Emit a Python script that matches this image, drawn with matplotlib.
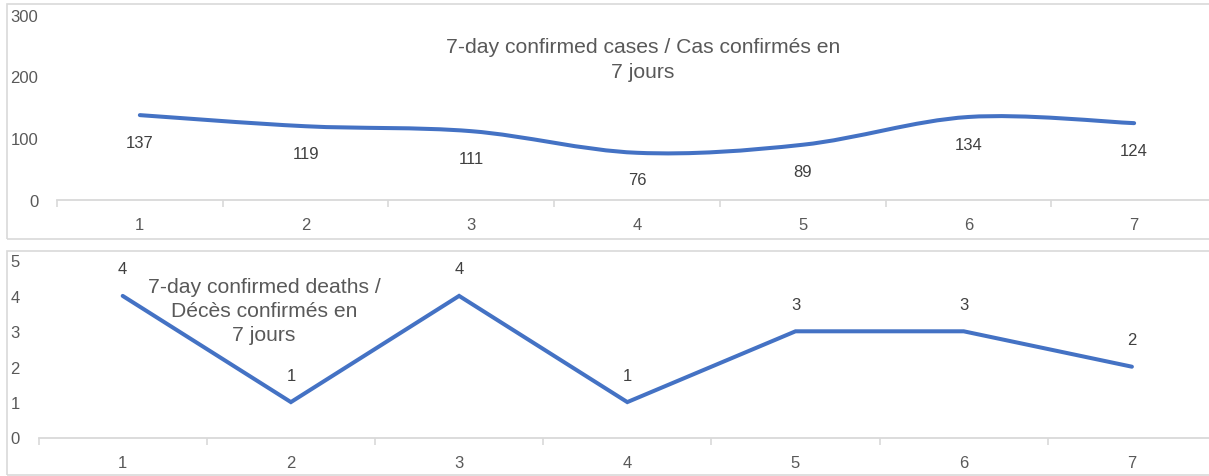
import matplotlib
matplotlib.use("Agg")
import matplotlib.pyplot as plt
from matplotlib.path import Path
from matplotlib.patches import PathPatch, Rectangle
import numpy as np

plt.rcParams['font.family'] = ['Liberation Sans', 'DejaVu Sans']

days = [1, 2, 3, 4, 5, 6, 7]
cases = [137, 119, 111, 76, 89, 134, 124]
deaths = [4, 1, 4, 1, 3, 3, 2]
case_ticks = [0, 100, 200, 300]
death_ticks = [0, 1, 2, 3, 4, 5]
title_cases = "7-day confirmed cases / Cas confirmés en\n7 jours"
title_deaths = "7-day confirmed deaths /\nDécès confirmés en\n7 jours"

LINE = '#4472C4'
GRID = '#D9D9D9'
TXT = '#595959'
LBL = '#404040'

W, H = 1209, 477
fig = plt.figure(figsize=(W / 100, H / 100), dpi=100)

# outer chart borders
for (x0, y0, x1, y1) in [(7, 5, 1215, 240), (7, 252, 1215, 476)]:
    fig.add_artist(Rectangle((x0 / W, 1 - y1 / H), (x1 - x0) / W, (y1 - y0) / H,
                             transform=fig.transFigure, fill=False,
                             edgecolor=GRID, linewidth=1.2, clip_on=False))


def make_ax(left, right, top, bottom):
    return fig.add_axes([left / W, 1 - bottom / H, (right - left) / W, (bottom - top) / H])


def style(ax, ymax, yticks):
    ax.set_xlim(0.5, 7.5)
    ax.set_ylim(0, ymax)
    for s in ['top', 'right', 'left']:
        ax.spines[s].set_visible(False)
    ax.spines['bottom'].set_color(GRID)
    ax.spines['bottom'].set_linewidth(1.3)
    ax.set_yticks(yticks)
    ax.set_yticklabels([str(t) for t in yticks])
    ax.tick_params(axis='y', length=0, pad=13.5, labelsize=12, labelcolor=TXT)
    ax.set_xticks(days)
    ax.set_xticklabels([str(d) for d in days])
    ax.set_xticks([d + 0.5 for d in [0] + days], minor=True)
    ax.tick_params(axis='x', which='major', length=0, pad=12.5, labelsize=12, labelcolor=TXT)
    ax.tick_params(axis='x', which='minor', length=5, width=1.2, color=GRID, direction='out')
    ax.set_facecolor('none')


def smooth_path(xs, ys):
    pts = np.column_stack([xs, ys]).astype(float)
    n = len(pts)
    verts = [pts[0]]
    codes = [Path.MOVETO]
    for i in range(n - 1):
        p0 = pts[i - 1] if i > 0 else pts[i]
        p1 = pts[i]
        p2 = pts[i + 1]
        p3 = pts[i + 2] if i + 2 < n else pts[i + 1]
        c1 = p1 + (p2 - p0) / 6.0
        c2 = p2 - (p3 - p1) / 6.0
        verts += [c1, c2, p2]
        codes += [Path.CURVE4] * 3
    return Path(verts, codes)


# top panel
ax1 = make_ax(57, 1217, 15.5, 200.7)
style(ax1, 300, case_ticks)
ax1.add_patch(PathPatch(smooth_path(days, cases), fill=False, edgecolor=LINE,
                        linewidth=2.9, capstyle='round', joinstyle='round'))
for d, v in zip(days, cases):
    ax1.annotate(str(v), (d, v), xytext=(0, -19.5), textcoords='offset points',
                 ha='center', va='center', fontsize=12, color=LBL)
ax1.text(643 / W, 1 - 60 / H, title_cases, transform=fig.transFigure,
         ha='center', va='center', fontsize=15.2, color=TXT, linespacing=1.35)

# bottom panel
ax2 = make_ax(38.6, 1216, 261.5, 438.5)
style(ax2, 5, death_ticks)
ax2.plot(days, deaths, color=LINE, linewidth=2.9, solid_capstyle='round', solid_joinstyle='miter')
for d, v in zip(days, deaths):
    ax2.annotate(str(v), (d, v), xytext=(0, 19.5), textcoords='offset points',
                 ha='center', va='center', fontsize=12, color=LBL)
fig.text(264 / W, 1 - 311.5 / H, title_deaths, transform=fig.transFigure,
         ha='center', va='center', fontsize=15.2, color=TXT, linespacing=1.35)

fig.savefig('out.png', dpi=100, facecolor='white')
